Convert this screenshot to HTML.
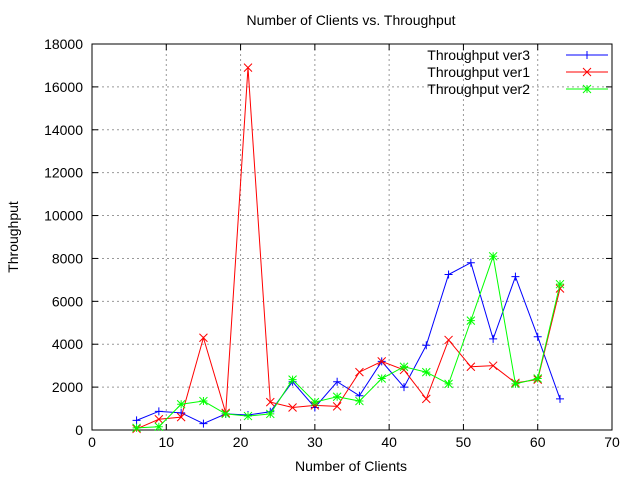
<!DOCTYPE html>
<html><head><meta charset="utf-8"><style>
body{margin:0;background:#fff}
svg{display:block;font-family:"Liberation Sans",sans-serif}
</style></head><body>
<svg id="chart" width="640" height="480" xmlns="http://www.w3.org/2000/svg">
<text x="351" y="25" font-size="14" text-anchor="middle">Number of Clients vs. Throughput</text>
<text x="351" y="471" font-size="14" text-anchor="middle">Number of Clients</text>
<text transform="translate(18,237) rotate(-90)" font-size="14" text-anchor="middle">Throughput</text>
<g id="grid"></g>
<g id="axes"></g>
<g id="series"></g>
<g id="legend"></g>
</svg>
<script>
const xValues=[6,9,12,15,18,21,24,27,30,33,36,39,42,45,48,51,54,57,60,63];
const ver3=[450,870,800,300,750,700,850,2250,1050,2250,1600,3200,2000,3950,7250,7800,4250,7150,4350,1450];
const ver1=[50,500,600,4300,800,16900,1300,1050,1150,1100,2700,3200,2800,1450,4200,2950,3000,2200,2350,6600];
const ver2=[100,150,1200,1350,750,650,750,2350,1300,1550,1350,2400,2950,2700,2150,5100,8100,2150,2400,6800];
const xTicks=[0,10,20,30,40,50,60,70];
const yTicks=[0,2000,4000,6000,8000,10000,12000,14000,16000,18000];
const L=92,R=612,T=44,B=430;
const sx=v=>L+(v-0)/70*(R-L);
const sy=v=>B-v/18000*(B-T);
const NS="http://www.w3.org/2000/svg";
function mk(tag,attrs,parent){const e=document.createElementNS(NS,tag);for(const k in attrs)e.setAttribute(k,attrs[k]);parent.appendChild(e);return e;}
const grid=document.getElementById('grid'),axes=document.getElementById('axes'),series=document.getElementById('series'),legend=document.getElementById('legend');
xTicks.forEach(t=>{const x=sx(t);
 if(t>0&&t<70){const g=mk('line',{x1:x,x2:x,y1:T,y2:B,stroke:'#999','stroke-dasharray':'2,3','stroke-width':1},grid);}
 mk('line',{x1:x,x2:x,y1:B,y2:B-6,stroke:'#000'},axes);mk('line',{x1:x,x2:x,y1:T,y2:T+6,stroke:'#000'},axes);
 const tx=mk('text',{x:x,y:B+17,'font-size':14,'text-anchor':'middle'},axes);tx.textContent=t;
 });
yTicks.forEach(t=>{const y=sy(t);
 if(t>0&&t<18000){const g=mk('line',{x1:L,x2:R,y1:y,y2:y,stroke:'#999','stroke-dasharray':'2,3','stroke-width':1},grid);}
 mk('line',{x1:L,x2:L+6,y1:y,y2:y,stroke:'#000'},axes);mk('line',{x1:R,x2:R-6,y1:y,y2:y,stroke:'#000'},axes);
 const tx=mk('text',{x:L-9,y:y+5,'font-size':14,'text-anchor':'end'},axes);tx.textContent=t;
 });
mk('rect',{x:L,y:T,width:R-L,height:B-T,fill:'none',stroke:'#000'},axes);
function marker(type,x,y,c,p){const s=4;let d;
 if(type==='plus')d=`M${x-s},${y}H${x+s}M${x},${y-s}V${y+s}`;
 else if(type==='x')d=`M${x-s},${y-s}L${x+s},${y+s}M${x-s},${y+s}L${x+s},${y-s}`;
 else d=`M${x-s},${y}H${x+s}M${x},${y-s}V${y+s}M${x-s},${y-s}L${x+s},${y+s}M${x-s},${y+s}L${x+s},${y-s}`;
 const m=mk('path',{d:d,stroke:c,'stroke-width':1,fill:'none'},p);return m;}
const defs=[['ver3',ver3,'#0000ff','plus','Throughput ver3'],['ver1',ver1,'#ff0000','x','Throughput ver1'],['ver2',ver2,'#00ff00','star','Throughput ver2']];
defs.forEach(([id,vals,c,m,label],i)=>{
 const g=mk('g',{},series);
 const pts=vals.map((v,j)=>sx(xValues[j])+','+sy(v)).join(' ');
 const pl=mk('polyline',{points:pts,fill:'none',stroke:c,'stroke-width':1},g);
 
 vals.forEach((v,j)=>{const mm=marker(m,sx(xValues[j]),sy(v),c,g);});
 const ly=55+i*17;
 const lg=mk('g',{},legend);
 const t=mk('text',{x:530,y:ly+5,'font-size':14,'text-anchor':'end'},lg);t.textContent=label;
 mk('line',{x1:566,x2:608,y1:ly,y2:ly,stroke:c},lg);marker(m,587,ly,c,lg);
});
</script>
</body></html>
